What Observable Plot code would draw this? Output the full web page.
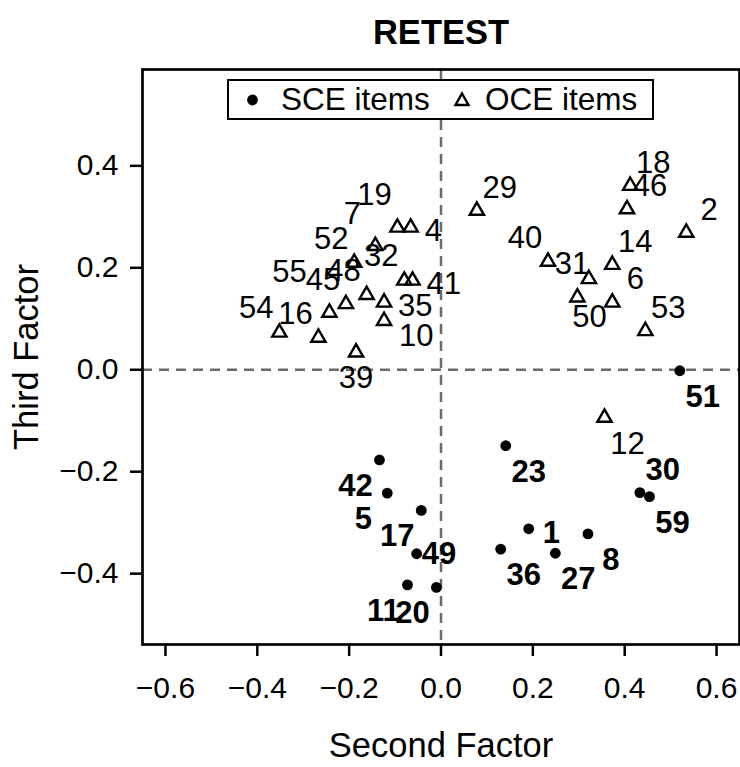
<!DOCTYPE html>
<html><head><meta charset="utf-8">
<script src="https://cdn.jsdelivr.net/npm/d3@7"></script>
<script src="https://cdn.jsdelivr.net/npm/@observablehq/plot@0.6"></script>
<style>
body{margin:0;background:#fff;}
#wrap{position:relative;width:740px;height:767px;font-family:"Liberation Sans",Arial,Helvetica,sans-serif;}
#legend{position:absolute;box-sizing:border-box;left:227px;top:79px;width:427px;height:41px;border:2px solid #000;background:#fff;font-size:31.5px;color:#000;}
#legend span{position:absolute;top:50%;transform:translateY(-50%);line-height:1;white-space:nowrap;}
#legend svg{position:absolute;top:50%;transform:translateY(-50%);}
</style></head><body><div id="wrap"></div>
<script>
// ---- data ----
const sceItems = ["51","23","42","5","17","49","11","20","36","1","27","8","30","59"];
const sceX     = [0.520, 0.141,-0.134,-0.117,-0.043,-0.053,-0.073,-0.010, 0.130, 0.191, 0.249, 0.320, 0.433, 0.454];
const sceY     = [-0.002,-0.149,-0.177,-0.242,-0.276,-0.361,-0.422,-0.427,-0.352,-0.312,-0.360,-0.322,-0.241,-0.249];
const sceLabelDir = ["se","se","sw","sw","sw","eNear","sw","sw","se","e","se","se","ne","se"];

const oceItems = ["54","16","55","45","48","35","10","39","7","52","32","19","4","41",
                  "29","18","46","2","40","31","14","6","50","53","12"];
const oceX = [-0.352,-0.267,-0.243,-0.207,-0.162,-0.124,-0.124,-0.185,-0.143,-0.189,-0.080,-0.095,-0.066,-0.062,
               0.078, 0.412, 0.405, 0.534, 0.233, 0.322, 0.373, 0.373, 0.297, 0.445, 0.356];
const oceY = [ 0.073, 0.063, 0.112, 0.129, 0.147, 0.132, 0.096, 0.034, 0.243, 0.210, 0.175, 0.279, 0.279, 0.175,
               0.312, 0.361, 0.315, 0.269, 0.212, 0.178, 0.206, 0.132, 0.142, 0.076,-0.094];
const oceLabelDir = ["nw","nw","nwFar","nw","nw","e","ese","s","nnw","nw","nw","nnw","e","e",
                     "ne","ne","ne","ne","nw","nwNear","ne","ne","sseNear","ne","se"];

const xTicks = [-0.6,-0.4,-0.2,0.0,0.2,0.4,0.6];
const yTicks = [-0.4,-0.2,0.0,0.2,0.4];
const titleText = "RETEST";
const xLabel = "Second Factor";
const yLabel = "Third Factor";
const legendLabels = ["SCE items","OCE items"];

// ---- build tables ----
const sce = sceItems.map((id,i)=>({id, x:sceX[i], y:sceY[i], dir:sceLabelDir[i]}));
const oce = oceItems.map((id,i)=>({id, x:oceX[i], y:oceY[i], dir:oceLabelDir[i]}));

// label placement styles (pixel offsets)
const dirs = {
  ne:{dx:23,dy:-23,a:"middle"}, nw:{dx:-23,dy:-24,a:"middle"}, nnw:{dx:-23,dy:-32,a:"middle"},
  nwFar:{dx:-40,dy:-41,a:"middle"}, nwNear:{dx:-17,dy:-15,a:"middle"},
  se:{dx:23,dy:26,a:"middle"}, sseNear:{dx:12,dy:20,a:"middle"}, sw:{dx:-24,dy:26,a:"middle"},
  s:{dx:0,dy:26,a:"middle"}, e:{dx:14,dy:4,a:"start"}, eNear:{dx:5,dy:0,a:"start"}, ese:{dx:15,dy:15,a:"start"}
};
const fmt = d3.format(".1f");
const FONT = "Liberation Sans, Arial, Helvetica, sans-serif";

const labelMarks = [];
for (const [k,o] of Object.entries(dirs)) {
  const s1 = sce.filter(d=>d.dir===k), s2 = oce.filter(d=>d.dir===k);
  if (s1.length) labelMarks.push(Plot.text(s1,{x:"x",y:"y",text:"id",dx:o.dx,dy:o.dy,textAnchor:o.a,lineAnchor:"middle",fontSize:31,fontWeight:"bold",fill:"#000"}));
  if (s2.length) labelMarks.push(Plot.text(s2,{x:"x",y:"y",text:"id",dx:o.dx,dy:o.dy,textAnchor:o.a,lineAnchor:"middle",fontSize:31,fill:"#000"}));
}

const plot = Plot.plot({
  width:740, height:767,
  marginLeft:142, marginRight:1, marginTop:69, marginBottom:123,
  x:{domain:[-0.65,0.65]},
  y:{domain:[-0.539,0.589]},
  style:{fontFamily:FONT, fontSize:"30px", color:"#000", background:"#fff", overflow:"visible"},
  marks:[
    Plot.ruleX([0],{stroke:"#6b6b6b",strokeWidth:2.5,strokeDasharray:"10,7"}),
    Plot.ruleY([0],{stroke:"#6b6b6b",strokeWidth:2.5,strokeDasharray:"10,7"}),
    Plot.dot(sce,{x:"x",y:"y",r:5.4,fill:"#000",stroke:"none"}),
    Plot.dot(oce,{x:"x",y:"y",symbol:"triangle",r:5.3,fill:"none",stroke:"#000",strokeWidth:2.4}),
    ...labelMarks,
    Plot.frame({stroke:"#000",strokeWidth:2.7}),
    Plot.axisX({ticks:xTicks,tickFormat:fmt,tickSize:12,tickPadding:20,strokeWidth:2.5,fontSize:30,label:null}),
    Plot.axisY({ticks:yTicks,tickFormat:fmt,tickSize:12,tickPadding:12,strokeWidth:2.5,fontSize:30,label:null}),
    Plot.text([xLabel],{frameAnchor:"bottom",dy:101,lineAnchor:"middle",textAnchor:"middle",fontSize:34.5,fill:"#000"}),
    Plot.text([yLabel],{frameAnchor:"left",dx:-116,rotate:-90,lineAnchor:"middle",textAnchor:"middle",fontSize:34.5,fill:"#000"}),
    Plot.text([titleText],{frameAnchor:"top",dy:-37,lineAnchor:"middle",textAnchor:"middle",fontSize:34.5,fontWeight:"bold",fill:"#000"})
  ]
});
const wrap = document.getElementById("wrap");
wrap.appendChild(plot);

// legend box drawn inside the plotting frame
const lg = document.createElement("div");
lg.id = "legend";
lg.innerHTML =
  `<svg width="13" height="13" style="left:17px"><circle cx="6.5" cy="6.5" r="5.4" fill="#000"/></svg>`+
  `<span style="left:52px">${legendLabels[0]}</span>`+
  `<svg width="18" height="18" style="left:224px"><path d="M9 2.5 L15.5 14 L2.5 14 Z" fill="none" stroke="#000" stroke-width="2.4"/></svg>`+
  `<span style="left:256px">${legendLabels[1]}</span>`;
wrap.appendChild(lg);
</script></body></html>
